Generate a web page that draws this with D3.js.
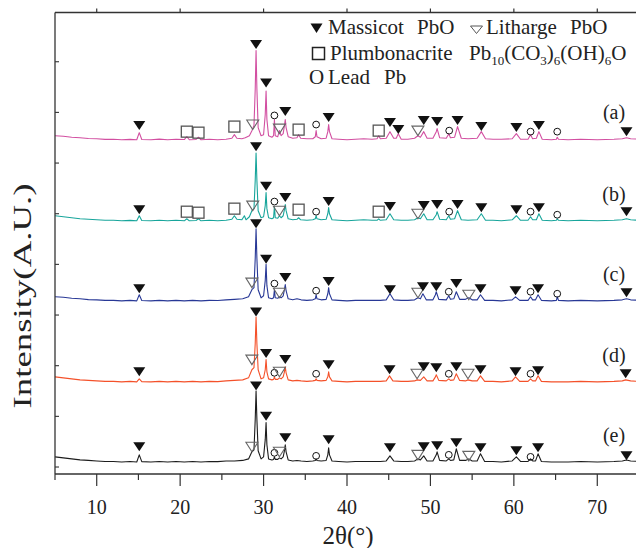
<!DOCTYPE html>
<html><head><meta charset="utf-8">
<script src="https://cdn.jsdelivr.net/npm/d3@7"></script>
<style>
html,body{margin:0;padding:0;background:#fff;}
svg text{font-family:"Liberation Serif","Times New Roman",serif;fill:#222;}
</style></head>
<body><svg id="chart" width="636" height="548"></svg>
<script>
// ---------- DATA ----------
const seriesNames = ["(a)", "(b)", "(c)", "(d)", "(e)"];
const seriesColors = ["#d24fa1", "#17a59b", "#283896", "#f4512a", "#1c1c1c"];
const seriesOffsets = [323, 243, 164, 84, 5];   // vertical stacking offsets (A.U.)
const xTicks = [10, 20, 30, 40, 50, 60, 70];
const xMinorTicks = [5, 15, 25, 35, 45, 55, 65, 75];
const yTicks = [0, 50, 100, 150, 200, 250, 300, 350, 400];

const seriesA = [[5,4],[6,3.5],[7,2.5],[8,2],[9,1.2],[10,1],[11,0.4],[12,0.5],[13,0],[14,0.4],[14.8,0],[15.1,7],[15.4,0.3],[16.5,0],[17.5,0.6],[18.5,0],[19.5,0.5],[20.5,0.2],[20.8,3],[21.1,0],[21.9,0.3],[22.2,2.5],[22.5,0],[23.5,0.5],[24.5,0],[25.5,0.5],[26.2,1.5],[26.5,5],[26.8,1.5],[27.4,1],[27.8,2],[28.3,4],[28.6,9],[28.85,14],[29.0,50],[29.1,88],[29.2,50],[29.35,12],[29.7,4],[30.0,5],[30.2,25],[30.3,48],[30.4,20],[30.6,4],[31.0,2.5],[31.2,4],[31.3,20],[31.4,4],[31.7,3],[31.9,9],[32.1,4],[32.35,6],[32.5,14],[32.6,20],[32.7,12],[32.95,3],[33.5,1.5],[34.0,2],[34.2,5],[34.45,1.5],[35.2,1],[35.9,1],[36.2,3],[36.3,9],[36.4,3],[36.9,1],[37.5,1.5],[37.7,8],[37.8,15],[37.9,8],[38.2,1],[39,0.5],[40,0],[41,0.5],[42,1],[43,0.5],[43.6,1],[43.8,4],[44.0,1],[44.7,1.5],[45.15,8],[45.6,1.5],[45.9,1.5],[46.15,6],[46.5,0.5],[47.3,0.5],[48.1,1.5],[48.5,4],[48.8,2.5],[49.2,8],[49.6,1.5],[50.3,1.5],[50.7,8],[50.8,11],[51.1,2],[51.9,1.5],[52.2,6],[52.4,2],[52.9,2.5],[53.25,13],[53.7,1.5],[54.5,1],[55.6,1.5],[56.1,8],[56.6,1],[57.5,0.5],[58.5,0.5],[59.8,1],[60.3,6],[60.8,0.5],[61.7,0.5],[62.0,5],[62.25,1],[62.7,1.5],[63.0,8],[63.4,0.5],[64.5,0],[65.1,0.5],[65.2,2.5],[65.35,0.5],[66.5,0],[68,0.5],[70,0],[72,0.5],[73.0,1],[73.5,2],[74.0,1],[75,0.5]];
const seriesB = [[5,5],[6,4],[7,3],[8,2],[9,1.5],[10,1],[11,0.5],[12,0.5],[13,0],[14,0.4],[14.8,0],[15.1,5],[15.4,0.3],[16.5,0],[17.5,0.5],[18.5,0],[19.5,0.5],[20.5,0],[20.8,2],[21.1,0],[21.9,0.3],[22.2,2],[22.5,0],[23.5,0.5],[24.5,0],[25.5,0.5],[26.2,1.5],[26.5,5],[26.8,1.5],[27.4,1],[27.7,5],[27.9,1],[28.3,4],[28.6,10],[28.85,12],[29.0,40],[29.1,67],[29.2,40],[29.35,10],[29.7,3],[30.0,4],[30.2,15],[30.3,28],[30.4,12],[30.6,3],[31.0,2],[31.2,3],[31.3,14],[31.4,3],[31.7,2.5],[31.9,5],[32.1,3],[32.35,5],[32.5,11],[32.6,16],[32.7,10],[32.95,2],[33.5,1],[34.0,1.5],[34.2,3],[34.45,1],[35.2,0.5],[35.9,1],[36.2,2],[36.3,5],[36.4,2],[36.9,1],[37.5,1.5],[37.7,7],[37.8,13],[37.9,7],[38.2,1],[39,0.5],[40,0],[41,0.5],[42,1],[43,0.5],[43.6,0.5],[43.8,2],[44.0,0.5],[44.7,1],[45.15,7],[45.6,1],[46.5,0.5],[47.3,0.5],[48.1,1],[48.5,3],[48.8,2],[49.2,7],[49.6,1],[50.3,1],[50.7,6],[50.8,9],[51.1,1.5],[51.9,1],[52.2,5],[52.4,1.5],[52.9,2],[53.25,10],[53.7,1],[54.5,0.5],[55.6,1],[56.1,7],[56.6,0.5],[57.5,0.5],[58.5,0],[59.8,1],[60.3,5],[60.8,0.5],[61.7,0.5],[62.0,4],[62.25,1],[62.7,1],[63.0,7],[63.4,0.5],[64.5,0],[65.1,0.5],[65.2,2],[65.35,0.5],[66.5,0],[68,0.5],[70,0],[72,0.5],[73.0,1],[73.5,2],[74.0,1],[75,0.5]];
const seriesC = [[5,4],[6,3.5],[7,2.5],[8,2],[9,1.2],[10,1],[11,0.5],[12,0.5],[13,0],[14,0.5],[14.8,0],[15.1,6],[15.4,0.3],[16.5,0],[17.5,0.5],[18.5,0],[19.5,0.5],[20.5,0],[21.5,0.5],[22.5,0],[23.5,0.5],[24.5,0.3],[25.5,1],[26.5,1.5],[27.5,2],[28.2,4],[28.6,11],[28.85,13],[29.0,42],[29.1,71],[29.2,42],[29.35,11],[29.7,3],[30.0,5],[30.2,20],[30.3,36],[30.4,15],[30.6,3],[31.0,2],[31.2,3],[31.3,11],[31.4,3],[31.7,2.5],[31.9,4],[32.1,3],[32.35,5],[32.5,11],[32.6,16],[32.7,10],[32.95,2],[33.5,1],[34.0,2],[34.5,1],[35.2,0.5],[35.9,1],[36.2,2],[36.3,6],[36.4,2],[36.9,1],[37.5,1.5],[37.7,7],[37.8,13],[37.9,7],[38.2,1],[39,0.5],[40,0],[41,0.5],[42,0.5],[43,0.5],[44,0.5],[44.7,1],[45.15,7],[45.6,1],[46.5,0.5],[47.3,0.5],[48.1,1],[48.5,3],[48.8,2],[49.1,7],[49.5,1],[50.3,1],[50.6,6],[50.7,9],[51.0,1.5],[51.9,1],[52.2,5],[52.4,1.5],[52.8,2],[53.1,9],[53.5,1.5],[54.2,1.5],[54.6,3],[55.0,1],[55.6,1],[56.0,6],[56.5,0.5],[57.5,0.5],[58.5,0],[59.8,1],[60.2,4],[60.7,0.5],[61.7,0.5],[62.0,4],[62.25,1],[62.6,1],[62.9,6],[63.3,0.5],[64.5,0],[65.1,0.5],[65.2,4],[65.35,0.5],[66.5,0],[68,0.5],[70,0],[72,0.5],[73.0,1],[73.5,2],[74.0,1],[75,0.5]];
const seriesD = [[5,5],[6,4],[7,3],[8,2],[9,1.5],[10,1],[11,0.5],[12,0.5],[13,0],[14,0.5],[14.8,0],[15.1,3],[15.4,0.3],[16.5,0],[17.5,0.5],[18.5,0],[19.5,0.5],[20.5,0],[21.5,0.5],[22.5,0],[23.5,0.5],[24.5,0.3],[25.5,1],[26.5,1.5],[27.5,2],[28.2,4],[28.6,12],[28.85,14],[29.0,38],[29.1,64],[29.2,38],[29.35,12],[29.7,3],[30.0,4],[30.2,12],[30.3,22],[30.4,10],[30.6,3],[31.0,2],[31.2,2.5],[31.3,5],[31.4,2.5],[31.7,2.5],[31.9,4],[32.1,3],[32.35,5],[32.5,10],[32.6,15],[32.7,9],[32.95,2],[33.5,1],[34.0,1.5],[34.5,1],[35.2,0.5],[35.9,1],[36.2,1.5],[36.3,3],[36.4,1.5],[36.9,1],[37.5,1.5],[37.7,5],[37.8,10],[37.9,5],[38.2,1],[39,0.5],[40,0],[41,0.5],[42,0.5],[43,0.5],[44,0.5],[44.7,1],[45.1,6],[45.5,1],[46.5,0.5],[47.3,0.5],[48.1,1],[48.4,2],[48.8,1.5],[49.2,5],[49.6,1],[50.3,1],[50.6,5],[50.7,7],[51.0,1.5],[51.9,1],[52.2,3],[52.4,1.5],[52.8,2],[53.1,8],[53.5,1.5],[54.2,1],[54.5,2],[55.0,1],[55.6,1],[56.0,6],[56.5,0.5],[57.5,0.5],[58.5,0],[59.8,1],[60.2,5],[60.7,0.5],[61.7,0.5],[62.0,3],[62.25,1],[62.6,1],[62.9,6],[63.3,0.5],[64.5,0],[66.5,0],[68,0.5],[70,0],[72,0.5],[73.0,1],[73.4,2],[74.0,1],[75,0.5]];
const seriesE = [[5,5],[6,4],[7,3],[8,2],[9,1.5],[10,1],[11,0.5],[12,0.5],[13,0],[14,0.5],[14.8,0],[15.1,7],[15.4,0.3],[16.5,0],[17.5,0.5],[18.5,0],[19.5,0.5],[20.5,0],[21.5,0.5],[22.5,0],[23.5,0.5],[24.5,0.3],[25.5,1],[26.5,1],[27.5,1.5],[28.2,3],[28.6,10],[28.85,12],[29.0,42],[29.1,70],[29.2,42],[29.35,11],[29.7,3],[30.0,5],[30.2,22],[30.3,39],[30.4,17],[30.6,3],[31.0,2],[31.2,2.5],[31.3,5],[31.4,2.5],[31.7,2.5],[31.9,4],[32.1,3],[32.35,5],[32.5,11],[32.6,17],[32.7,10],[32.95,2],[33.5,1],[34.0,1.5],[34.5,1],[35.2,0.5],[35.9,1],[36.2,1.5],[36.3,3],[36.4,1.5],[36.9,1],[37.5,1.5],[37.7,7],[37.8,14],[37.9,7],[38.2,1],[39,0.5],[40,0],[41,0.5],[42,0.5],[43,0.5],[44,0.5],[44.7,1],[45.15,6],[45.6,1],[46.5,0.5],[47.3,0.5],[48.1,1],[48.5,3],[48.8,2],[49.2,6],[49.6,1],[50.3,1],[50.7,7],[50.8,10],[51.1,1.5],[51.9,1],[52.2,3],[52.4,1.5],[52.8,2],[53.1,13],[53.5,1.5],[54.2,1.5],[54.6,3],[55.0,1],[55.6,1],[56.0,8],[56.5,0.5],[57.5,0.5],[58.5,0],[59.8,1],[60.3,5],[60.8,0.5],[61.7,0.5],[62.0,3],[62.25,1],[62.6,1],[62.9,8],[63.3,0.5],[64.5,0],[66.5,0],[68,0.5],[70,0],[72,0.5],[73.0,1],[73.5,2],[74.0,1],[75,0.5]];

// phase markers: [2theta, phase, intensity level above the trace baseline]
// M = Massicot PbO, L = Litharge PbO, P = Plumbonacrite, Pb = Lead
const markersA = [[15.1,"M",14],[20.8,"P",8],[22.2,"P",7],[26.5,"P",13],[28.7,"L",15],[29.1,"M",94],[30.3,"M",56],[31.3,"Pb",24],[31.9,"L",11],[32.6,"M",28],[34.2,"P",10],[36.3,"Pb",15],[37.8,"M",22],[43.8,"P",9],[45.15,"M",17],[46.15,"M",10],[48.5,"L",9],[49.2,"M",19],[50.8,"M",18],[52.25,"Pb",9],[53.25,"M",19],[56.1,"M",13],[60.3,"M",12],[62.0,"Pb",8],[63.0,"M",14],[65.2,"Pb",8],[73.5,"M",8]];
const markersB = [[15.1,"M",11],[20.8,"P",9],[22.2,"P",8],[26.5,"P",12],[28.7,"L",15],[29.1,"M",73],[30.3,"M",34],[31.3,"Pb",19],[31.9,"L",10],[32.6,"M",23],[34.2,"P",11],[36.3,"Pb",9],[37.8,"M",19],[43.8,"P",9],[45.15,"M",14],[48.5,"L",7],[49.2,"M",15],[50.8,"M",16],[52.25,"Pb",9],[53.25,"M",16],[56.1,"M",13],[60.3,"M",11],[62.0,"Pb",9],[63.0,"M",13],[65.2,"Pb",6],[73.5,"M",9]];
const markersC = [[15.1,"M",12],[28.6,"L",18],[29.1,"M",76],[30.3,"M",41],[31.3,"Pb",17],[31.9,"L",8],[32.6,"M",23],[36.3,"Pb",10],[37.8,"M",19],[45.15,"M",11],[48.5,"L",8],[49.1,"M",14],[50.7,"M",14],[52.2,"Pb",9],[53.1,"M",17],[54.6,"L",6],[56.0,"M",12],[60.2,"M",10],[62.0,"Pb",9],[62.9,"M",12],[65.2,"Pb",7],[73.5,"M",8]];
const markersD = [[15.1,"M",10],[28.6,"L",22],[29.1,"M",69],[30.3,"M",28],[31.3,"Pb",9],[31.9,"L",10],[32.6,"M",22],[36.3,"Pb",8],[37.8,"M",17],[45.1,"M",12],[48.4,"L",8],[49.2,"M",15],[50.7,"M",14],[52.2,"Pb",8],[53.1,"M",15],[54.5,"L",8],[56.0,"M",12],[60.2,"M",10],[62.0,"Pb",8],[62.9,"M",11],[73.4,"M",8]];
const markersE = [[15.1,"M",15],[28.6,"L",15],[29.1,"M",75],[30.3,"M",45],[31.3,"Pb",9],[31.9,"L",10],[32.6,"M",24],[36.3,"Pb",6],[37.8,"M",22],[45.15,"M",14],[48.5,"L",7],[49.2,"M",15],[50.8,"M",16],[52.2,"Pb",7],[53.1,"M",19],[54.6,"L",6],[56.0,"M",14],[60.3,"M",11],[62.0,"Pb",5],[62.9,"M",14],[73.5,"M",6]];

const allSeries = [seriesA, seriesB, seriesC, seriesD, seriesE];
const allMarkers = [markersA, markersB, markersC, markersD, markersE];

// ---------- CHART ----------
const svg = d3.select("#chart");
const L = 55, R = 639, T = 12.5, B = 474;
const x = d3.scaleLinear().domain([5, 75]).range([L, R]);
const y = d3.scaleLinear().domain([-6.9, 448.6]).range([B, T]);

svg.append("defs").append("clipPath").attr("id", "clip")
  .append("rect").attr("x", L).attr("y", 0).attr("width", 636 - L).attr("height", B);

const line = d3.line().x(d => x(d[0])).y(d => y(d[1]));

const plot = svg.append("g").attr("clip-path", "url(#clip)");
allSeries.forEach((s, i) => {
  const off = seriesOffsets[i];
  plot.append("path")
    .datum(s.map(p => [p[0], p[1] + off]))
    .attr("d", line)
    .attr("fill", "none")
    .attr("stroke", seriesColors[i])
    .attr("stroke-width", 1.1)
    .attr("stroke-linejoin", "round");
});

// markers
function drawMarker(g, type, cx, cy) {
  if (type === "M") {
    g.append("path").attr("d", `M${cx-6},${cy-4.5}L${cx+6},${cy-4.5}L${cx},${cy+4.5}Z`).attr("fill", "#111");
  } else if (type === "L") {
    g.append("path").attr("d", `M${cx-6},${cy-4.5}L${cx+6},${cy-4.5}L${cx},${cy+5}Z`)
      .attr("fill", "none").attr("stroke", "#666").attr("stroke-width", 1.1);
  } else if (type === "P") {
    g.append("rect").attr("x", cx-5.5).attr("y", cy-5.5).attr("width", 11).attr("height", 11)
      .attr("fill", "none").attr("stroke", "#555").attr("stroke-width", 1.3);
  } else {
    g.append("circle").attr("cx", cx).attr("cy", cy).attr("r", 3.4)
      .attr("fill", "none").attr("stroke", "#111").attr("stroke-width", 1);
  }
}
const mg = svg.append("g");
allMarkers.forEach((ms, i) => {
  ms.forEach(m => drawMarker(mg, m[1], x(m[0]), y(seriesOffsets[i] + m[2])));
});

// series labels
seriesNames.forEach((n, i) => {
  svg.append("text").attr("x", 614).attr("y", y(seriesOffsets[i] + 20))
    .attr("text-anchor", "middle").attr("font-size", 20).text(n);
});

// axes frame
const axisColor = "#333";
svg.append("line").attr("x1", L).attr("x2", 636).attr("y1", B).attr("y2", B).attr("stroke", axisColor).attr("stroke-width", 1.3);
svg.append("line").attr("x1", L).attr("x2", 636).attr("y1", T).attr("y2", T).attr("stroke", axisColor).attr("stroke-width", 1.3);
svg.append("line").attr("x1", L).attr("x2", L).attr("y1", T).attr("y2", B).attr("stroke", axisColor).attr("stroke-width", 1.3);

// bottom ticks
xTicks.forEach(t => {
  svg.append("line").attr("x1", x(t)).attr("x2", x(t)).attr("y1", B).attr("y2", B + 12).attr("stroke", axisColor).attr("stroke-width", 1.2);
  svg.append("text").attr("x", x(t)).attr("y", 514).attr("text-anchor", "middle").attr("font-size", 20).text(t);
  svg.append("line").attr("x1", x(t)).attr("x2", x(t)).attr("y1", T).attr("y2", T - 4).attr("stroke", axisColor).attr("stroke-width", 1.2);
});
xMinorTicks.forEach(t => {
  svg.append("line").attr("x1", x(t)).attr("x2", x(t)).attr("y1", B).attr("y2", B + 6).attr("stroke", axisColor).attr("stroke-width", 1.2);
});
// left ticks (inward, unlabeled)
yTicks.forEach(t => {
  svg.append("line").attr("x1", L).attr("x2", L + 4).attr("y1", y(t)).attr("y2", y(t)).attr("stroke", axisColor).attr("stroke-width", 1.1);
});

// axis titles
svg.append("text").attr("x", 348).attr("y", 544).attr("text-anchor", "middle").attr("font-size", 25).text("2θ(°)");
svg.append("text").attr("transform", "translate(31,296) rotate(-90)").attr("text-anchor", "middle")
  .attr("font-size", 25).attr("textLength", 225).attr("lengthAdjust", "spacingAndGlyphs").text("Intensity(A.U.)");

// legend
const lg = svg.append("g").attr("font-size", 21);
lg.append("path").attr("d", "M310.5,23.5L322.5,23.5L316.5,33Z").attr("fill", "#111");
lg.append("text").attr("x", 328).attr("y", 34).text("Massicot");
lg.append("text").attr("x", 417).attr("y", 34).text("PbO");
lg.append("path").attr("d", "M470.5,26L482.5,26L476.5,33.5Z").attr("fill", "none").attr("stroke", "#555").attr("stroke-width", 1);
lg.append("text").attr("x", 486).attr("y", 34).text("Litharge");
lg.append("text").attr("x", 570).attr("y", 34).text("PbO");
lg.append("rect").attr("x", 312.5).attr("y", 47.5).attr("width", 12).attr("height", 12).attr("fill", "none").attr("stroke", "#222").attr("stroke-width", 1.5);
lg.append("text").attr("x", 330).attr("y", 60).text("Plumbonacrite");
const f = lg.append("text").attr("x", 469).attr("y", 60);
const parts = [["Pb",0],["10",1],["(CO",0],["3",1],[")",0],["6",1],["(OH)",0],["6",1],["O",0]];
parts.forEach(p => {
  f.append("tspan").attr("font-size", p[1] ? 13 : 21)
    .attr("baseline-shift", p[1] ? "-5" : "0").text(p[0]);
});
lg.append("text").attr("x", 309).attr("y", 84).text("O");
lg.append("text").attr("x", 328).attr("y", 84).text("Lead");
lg.append("text").attr("x", 384).attr("y", 84).text("Pb");
</script></body></html>
